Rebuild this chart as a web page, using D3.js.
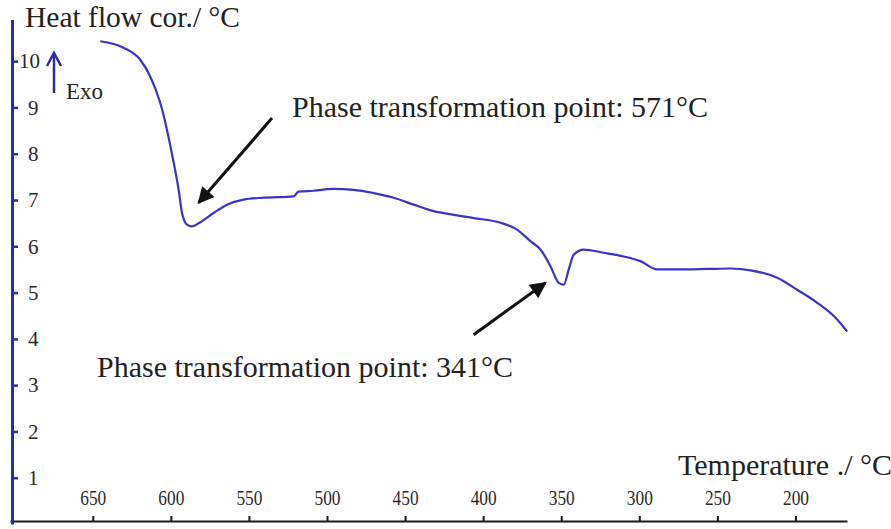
<!DOCTYPE html>
<html>
<head>
<meta charset="utf-8">
<script src="https://cdn.jsdelivr.net/npm/d3@7"></script>
<style>
  html, body { margin: 0; padding: 0; background: #fff; }
  svg { display: block; font-family: "Liberation Serif", "Times New Roman", serif; }
</style>
</head>
<body>
<svg id="chart" width="891" height="529"></svg>
<script>
// DSC cooling trace: temperature (°C) and corrected heat flow
const temperature = [645.2, 630.3, 619.6, 613.2, 606.8, 602.5, 598.2, 595.0, 592.9, 589.7,
  586.5, 581.1, 572.6, 564.0, 553.4, 540.6, 521.4, 518.2, 508.6, 495.8,
  482.9, 470.1, 457.3, 444.5, 431.7, 418.9, 406.1, 389.0, 378.3, 369.7,
  363.3, 356.9, 351.6, 348.4, 345.2, 342.0, 335.6, 322.8, 310.0, 299.3,
  288.6, 273.7, 256.6, 241.6, 228.8, 211.7, 198.9, 186.1, 173.3, 166.9];
const heatFlow = [10.43, 10.29, 10.03, 9.67, 9.10, 8.52, 7.81, 7.22, 6.73, 6.47,
  6.43, 6.52, 6.72, 6.90, 7.01, 7.05, 7.08, 7.18, 7.20, 7.24,
  7.22, 7.15, 7.05, 6.90, 6.76, 6.68, 6.61, 6.51, 6.36, 6.11,
  5.93, 5.57, 5.21, 5.17, 5.50, 5.82, 5.93, 5.86, 5.78, 5.68,
  5.50, 5.50, 5.51, 5.52, 5.48, 5.32, 5.06, 4.78, 4.42, 4.16];

const xTicks = [650, 600, 550, 500, 450, 400, 350, 300, 250, 200];
const yTicks = [1, 2, 3, 4, 5, 6, 7, 8, 9, 10];

// Annotated transformation points: label, arrow tail (T, value), arrow tip (T, value)
const annotations = [
  { label: "Phase transformation point: 571°C", tail: [535.2, 8.77], tip: [582.2, 6.94] },
  { label: "Phase transformation point: 341°C", tail: [406.1, 4.09], tip: [360.1, 5.21] }
];

const svg = d3.select("#chart");

const x = d3.scaleLinear().domain([703, 167]).range([10, 847]);
const y = d3.scaleLinear().domain([0, 10.9]).range([524, 19.5]);

const xAxisY = 521;
const yAxisX = 12;

// X axis (temperature runs high to low)
const gx = svg.append("g")
  .attr("transform", `translate(0,${xAxisY})`)
  .call(d3.axisTop(x).tickValues(xTicks).tickSize(5).tickSizeOuter(0).tickPadding(11));
gx.select(".domain").attr("stroke", "#1a1a1a").attr("stroke-width", 2);
gx.selectAll(".tick line").attr("stroke", "#1a1a1a").attr("stroke-width", 2);
gx.selectAll(".tick text")
  .attr("fill", "#2a2a2a")
  .style("font-family", "'Liberation Serif', serif")
  .attr("font-size", 21)
  .attr("textLength", 26)
  .attr("lengthAdjust", "spacingAndGlyphs");

// Y axis (blue), ticks inside
const gy = svg.append("g")
  .attr("transform", `translate(${yAxisX},0)`)
  .call(d3.axisRight(y).tickValues(yTicks).tickSize(6).tickSizeOuter(0).tickPadding(10));
gy.select(".domain").attr("stroke", "#2d2d9e").attr("stroke-width", 3);
gy.selectAll(".tick line").attr("stroke", "#2d2d9e").attr("stroke-width", 2.5);
gy.selectAll(".tick text")
  .attr("fill", "#2a2a2a")
  .style("font-family", "'Liberation Serif', serif")
  .attr("font-size", 21)
  .attr("x", d => d >= 10 ? 7 : 16);

// Heat-flow curve
const pts = temperature.map((t, i) => [t, heatFlow[i]]);
const line = d3.line()
  .x(d => x(d[0]))
  .y(d => y(d[1]))
  .curve(d3.curveMonotoneX);
svg.append("path")
  .datum(pts)
  .attr("d", line)
  .attr("fill", "none")
  .attr("stroke", "#3b34c8")
  .attr("stroke-width", 2.2)
  .attr("stroke-linejoin", "round");

// Arrow markers
const defs = svg.append("defs");
defs.append("marker")
  .attr("id", "head")
  .attr("viewBox", "0 0 10 10")
  .attr("refX", 9).attr("refY", 5)
  .attr("markerWidth", 6.5).attr("markerHeight", 5.5)
  .attr("markerUnits", "strokeWidth")
  .attr("orient", "auto")
  .append("path")
  .attr("d", "M0,0 L10,5 L0,10 Z")
  .attr("fill", "#111");

annotations.forEach(a => {
  svg.append("line")
    .attr("x1", x(a.tail[0])).attr("y1", y(a.tail[1]))
    .attr("x2", x(a.tip[0])).attr("y2", y(a.tip[1]))
    .attr("stroke", "#111")
    .attr("stroke-width", 3)
    .attr("marker-end", "url(#head)");
});

svg.append("text").attr("x", 292).attr("y", 117)
  .attr("font-size", 30).attr("fill", "#222").text(annotations[0].label);
svg.append("text").attr("x", 97).attr("y", 377)
  .attr("font-size", 30).attr("fill", "#222").text(annotations[1].label);

// Axis titles
svg.append("text").attr("x", 25).attr("y", 27)
  .attr("font-size", 29.5).attr("fill", "#222").text("Heat flow cor./ °C");
svg.append("text").attr("x", 678).attr("y", 475)
  .attr("font-size", 30).attr("fill", "#222").text("Temperature ./ °C");

// Exothermic direction indicator
svg.append("line")
  .attr("x1", 54).attr("y1", 93).attr("x2", 54).attr("y2", 54)
  .attr("stroke", "#2d2d9e").attr("stroke-width", 2.5);
svg.append("path")
  .attr("d", "M47,66 L54,53 L61,66")
  .attr("fill", "none").attr("stroke", "#2d2d9e").attr("stroke-width", 2.5);
svg.append("text").attr("x", 66).attr("y", 99)
  .attr("font-size", 23).attr("fill", "#222").text("Exo");
</script>
</body>
</html>
